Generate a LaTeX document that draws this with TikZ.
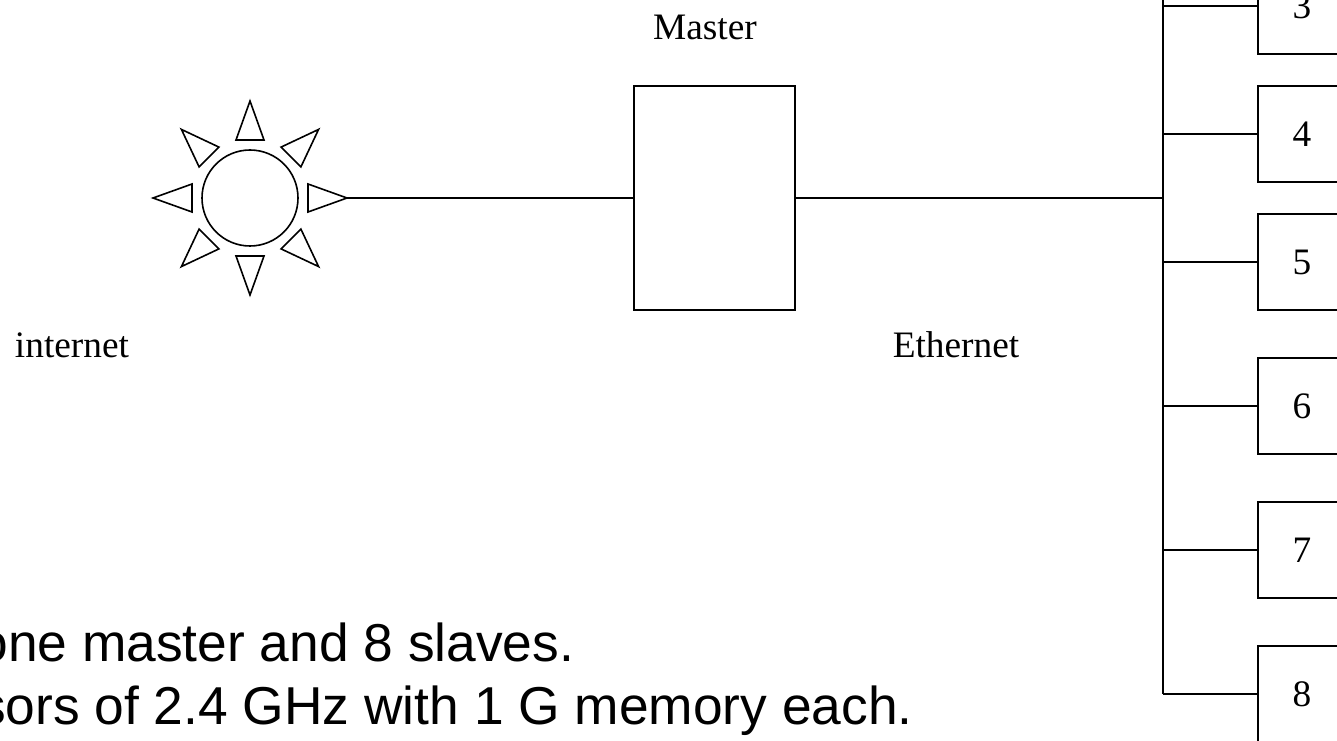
\documentclass[tikz,border=0pt]{standalone}
\usepackage{fontspec}
\setmainfont{Liberation Serif}
\newfontfamily\notefont{Liberation Sans}
\tikzset{
 box/.style={draw=black,line width=1.2pt,inner sep=0pt,font=\fontsize{28}{32}\selectfont},
 lbl/.style={inner sep=0pt,font=\fontsize{28}{32}\selectfont},
 note/.style={inner sep=0pt,anchor=base east,font=\notefont\fontsize{40}{48}\selectfont},
 wire/.style={black,line width=1.2pt}
}
\newcommand{\slave}[3]{%
 \node (#1) [box,minimum width=66pt,minimum height=72pt] at (#2) {#3};%
 \draw [wire] (#1.west) -- (#1.west -| bustop);%
}
\begin{document}
\begin{tikzpicture}[x=.75pt,y=-.75pt]
   \useasboundingbox (0,0) rectangle (1337,741);
   \clip (0,0) rectangle (1337,741);
   % internet
   \node (sun) [draw=black,line width=1.2pt,circle,inner sep=0pt,minimum size=72pt] at (250,198) {};
   \foreach \a in {0,45,...,315}
     \draw [wire,line join=miter,rotate around={\a:(sun.center)}] (308,184) -- (347,198) -- (308,212) -- cycle;
   \coordinate (suntip) at (347,198);
   \node (internet) [lbl] at (72,345) {internet};
   % master
   \node (master) [box,minimum width=120.75pt,minimum height=168pt] at (714.5,198) {};
   \node (mlabel) [lbl] at (705,27) {Master};
   \draw [wire] (suntip) -- (master);
   % ethernet bus
   \coordinate (bustop) at (1163,-10);
   \coordinate (busjoin) at (1163,198);
   \draw [wire] (master) -- (busjoin);
   \node (ethernet) [lbl] at (956,345) {Ethernet};
   \slave{s3}{1302,6}{3}
   \slave{s4}{1302,134}{4}
   \slave{s5}{1302,262}{5}
   \slave{s6}{1302,406}{6}
   \slave{s7}{1302,550}{7}
   \slave{s8}{1302,694}{8}
   \draw [wire] (bustop) -- (bustop |- s8.west);
   % notes
   \node (note1) [note] at (574.5,661) {one master and 8 slaves.};
   \node (note2) [note] at (913,724) {sors of 2.4 GHz with 1 G memory each.};
\end{tikzpicture}
\end{document}
